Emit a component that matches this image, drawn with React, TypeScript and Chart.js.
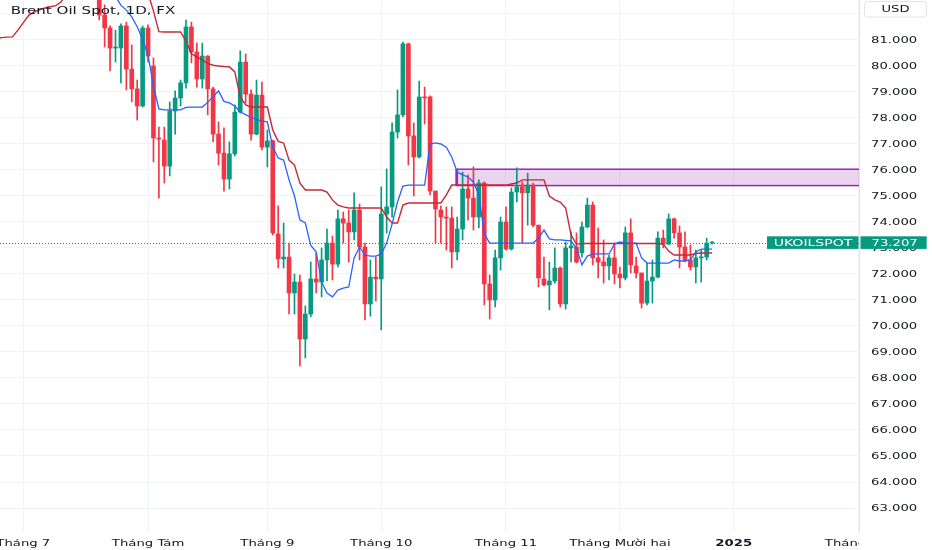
import React, { useEffect, useRef } from 'react';
import { Chart, registerables } from 'chart.js';

Chart.register(...registerables);

// ---- Daily candles, bar index 0 = first trading day of "Tháng 7" ----
const opens = [
  85.0, 86.4, 86.2, 87.2, 87.3, 86.5, 85.7, 84.6, 85.1, 85.4,
  85.0, 84.8, 83.9, 84.4, 83.4, 81.96, 81.46, 80.69, 80.69, 81.54,
  79.88, 79.12, 78.46, 81.46, 80.0, 77.23, 77.15, 76.15, 78.27, 78.77,
  79.35, 81.5, 80.54, 79.5, 80.38, 79.12, 77.38, 76.65, 75.65, 76.62,
  78.23, 80.15, 78.92, 77.38, 78.88, 76.88, 77.12, 73.54, 72.58, 72.65,
  71.27, 71.69, 69.5, 70.46, 71.81, 71.69, 72.54, 73.19, 72.38, 74.12,
  73.96, 73.62, 74.46, 73.04, 70.85, 71.88, 71.81, 74.31, 74.58, 77.46,
  78.12, 80.85, 77.31, 76.5, 78.81, 78.81, 75.19, 74.46, 74.19, 74.15,
  72.85, 73.73, 75.27, 74.92, 74.19, 75.5, 71.62, 71.0, 72.62, 74.0,
  72.96, 75.15, 75.35, 75.12, 75.42, 73.88, 71.81, 71.58, 71.73, 72.23,
  70.85, 73.0, 73.04, 72.81, 73.81, 74.65, 72.62, 72.46, 72.31, 72.62,
  72.0, 71.85, 73.58, 72.31, 72.04, 70.88, 71.73, 71.88, 73.38, 73.15,
  74.12, 73.58, 73.04, 72.54, 72.27, 72.62, 72.65, 73.19,
];
const highs = [
  86.6, 86.9, 87.3, 87.5, 87.9, 86.8, 85.9, 85.3, 85.8, 85.7,
  85.2, 85.0, 84.7, 84.6, 83.6, 82.35, 81.54, 81.38, 81.62, 81.69,
  80.81, 79.46, 81.54, 81.58, 80.31, 77.65, 77.65, 78.62, 79.04, 79.46,
  81.77, 81.69, 80.88, 80.88, 80.4, 79.19, 77.85, 77.62, 77.08, 78.5,
  80.58, 80.46, 79.08, 79.46, 79.38, 77.54, 77.15, 74.62, 73.96, 73.19,
  72.0, 71.96, 70.77, 72.46, 72.81, 73.0, 73.73, 73.46, 74.46, 74.38,
  74.46, 75.12, 74.69, 73.19, 72.54, 72.65, 75.35, 76.04, 77.81, 79.08,
  80.92, 80.88, 77.81, 79.42, 79.19, 78.85, 75.19, 74.62, 74.58, 74.58,
  74.19, 75.92, 75.81, 76.12, 75.62, 75.54, 71.96, 72.92, 74.19, 74.58,
  75.31, 76.08, 75.54, 75.88, 75.5, 73.88, 72.65, 72.46, 73.0, 72.27,
  73.23, 73.62, 73.58, 74.0, 74.92, 74.77, 73.77, 73.31, 72.73, 73.19,
  72.27, 73.81, 74.12, 72.65, 72.04, 72.42, 72.54, 73.62, 73.69, 74.31,
  74.15, 73.85, 73.62, 73.12, 72.92, 72.92, 73.38, 73.25,
];
const lows = [
  84.6, 85.8, 85.9, 86.8, 86.2, 85.4, 84.4, 84.3, 84.9, 84.8,
  84.5, 83.7, 83.7, 83.1, 81.77, 80.73, 79.81, 80.15, 79.35, 79.08,
  78.62, 77.92, 78.42, 80.15, 76.31, 74.92, 75.5, 75.77, 77.38, 78.46,
  79.15, 80.12, 79.19, 79.15, 78.12, 77.08, 76.19, 75.19, 75.27, 76.54,
  78.19, 78.58, 77.15, 77.35, 76.77, 76.12, 73.5, 72.23, 72.23, 70.46,
  70.46, 68.46, 68.77, 70.35, 71.27, 71.12, 71.73, 71.77, 72.27, 73.19,
  72.46, 73.31, 72.54, 70.23, 70.38, 70.96, 69.85, 73.58, 74.19, 77.23,
  78.04, 76.19, 75.0, 76.46, 77.77, 75.04, 73.19, 73.19, 72.92, 72.23,
  72.54, 73.31, 74.08, 73.69, 73.77, 70.81, 70.27, 70.73, 72.15, 72.92,
  72.92, 74.77, 73.19, 73.88, 73.81, 71.5, 71.54, 70.62, 71.65, 70.73,
  70.65, 72.46, 72.42, 72.65, 73.77, 72.35, 71.85, 71.65, 71.77, 71.62,
  71.46, 71.77, 72.04, 71.85, 70.69, 70.81, 70.88, 71.85, 73.0, 73.12,
  73.38, 72.23, 72.46, 72.15, 71.65, 71.69, 72.54, 73.15,
];
const closes = [
  86.4, 86.2, 87.2, 87.3, 86.5, 85.7, 84.6, 85.1, 85.4, 85.0,
  84.8, 83.9, 84.4, 83.4, 81.96, 81.46, 80.69, 80.73, 81.54, 79.88,
  79.12, 78.46, 81.46, 80.38, 77.23, 77.19, 76.15, 78.27, 78.77, 79.35,
  81.5, 80.54, 79.5, 80.38, 79.12, 77.38, 76.65, 75.65, 76.62, 78.23,
  80.15, 78.92, 77.38, 78.88, 76.88, 77.12, 73.58, 72.58, 72.65, 71.27,
  71.69, 69.5, 70.46, 71.81, 71.69, 72.54, 73.19, 72.38, 74.12, 73.96,
  73.62, 74.46, 73.04, 70.85, 71.88, 71.81, 74.31, 74.58, 77.46, 78.12,
  80.85, 77.31, 76.5, 78.81, 78.77, 75.19, 74.5, 74.19, 74.15, 72.85,
  73.73, 75.27, 74.92, 74.19, 75.5, 71.62, 71.0, 72.62, 74.0, 72.96,
  75.15, 75.35, 75.12, 75.42, 73.88, 71.85, 71.58, 71.73, 72.23, 70.85,
  73.0, 73.08, 72.46, 73.81, 74.65, 72.62, 72.46, 72.31, 72.62, 72.0,
  71.85, 73.58, 72.35, 72.04, 70.88, 71.73, 71.88, 73.38, 73.15, 74.12,
  73.58, 73.04, 72.54, 72.27, 72.62, 72.65, 73.19, 73.21,
];

// ---- Indicator lines (values from bar index LINE_START onward) ----
const LINE_START = -5;
const conversionLine = [
  85.6, 85.6, 85.8, 86.0, 86.0, 86.2, 86.4, 86.4, 86.4,
  86.6, 86.6, 86.3, 86.0, 86.0, 85.9, 85.6,
  85.4, 85.1, 84.9, 84.5, 84.0, 83.0,
  82.69, 82.33, 82.15, 81.89, 81.51, 81.03, 80.42, 79.23, 78.35, 78.31,
  78.31, 78.31, 78.31, 78.41, 78.42, 78.42, 78.42, 78.6, 78.82, 79.04,
  78.64, 78.58, 78.46, 78.23, 78.13, 78.02, 77.95, 77.88, 77.85, 76.88,
  76.46, 76.38, 75.62, 75.0, 74.08, 73.96, 73.1, 72.85, 71.69, 71.27,
  71.12, 71.38, 71.46, 71.5, 72.62, 73.04, 72.73, 72.69, 72.69, 72.77,
  73.19, 73.92, 74.77, 75.38, 75.42, 75.42, 75.42, 75.42, 77.0, 77.04,
  77.0, 76.88, 76.5, 75.92, 75.81, 75.73, 75.54, 75.04, 73.54, 73.19,
  73.19, 73.19, 73.19, 73.19, 73.19, 73.19, 73.19, 73.19, 73.38, 73.69,
  73.35, 73.31, 73.31, 73.29, 73.27, 73.0, 72.35, 72.69, 72.77, 72.77,
  72.77, 72.77, 73.15, 73.23, 73.19, 73.19, 73.19, 72.62, 72.42, 72.42,
  72.42, 72.42, 72.42, 72.54, 72.5, 72.5, 72.54, 72.85, 72.96, 72.96,
  72.96,
];
const baseLine = [
  81.08, 81.09, 81.11, 81.12, 81.38, 81.67, 81.95, 82.08, 82.16, 82.23, 82.28, 82.32, 82.47,
  82.85, 83.2, 83.5, 83.5, 83.5, 83.5, 83.5, 83.5, 83.5, 83.5, 83.5, 83.5, 83.5, 83.5,
  83.3, 82.79, 82.12, 81.32, 81.31, 81.31, 81.31, 81.31, 80.96, 80.47,
  80.35, 80.23, 80.1, 80.03, 80.0, 79.98, 79.97, 79.77, 78.81, 78.5,
  78.42, 78.42, 78.42, 78.42, 77.54, 77.1, 77.04, 76.38, 76.19, 75.5,
  75.23, 75.23, 75.23, 75.23, 75.15, 74.85, 74.65, 74.58, 74.54, 74.54,
  74.54, 74.54, 74.54, 74.54, 74.54, 74.19, 73.96, 73.96, 74.65, 74.73,
  74.73, 74.73, 74.73, 74.73, 74.73, 74.73, 75.04, 75.42, 75.42, 75.42,
  75.42, 75.42, 75.42, 75.42, 75.42, 75.42, 75.42, 75.42, 75.46, 75.5,
  75.62, 75.62, 75.62, 75.62, 75.62, 75.0, 74.85, 74.77, 74.54, 73.5,
  73.15, 73.17, 73.17, 73.17, 73.17, 73.17, 73.17, 73.17, 73.17, 73.17,
  73.17, 73.17, 73.17, 73.17, 73.17, 73.17, 73.15, 72.88, 72.73, 72.73,
  72.73, 72.73, 72.79, 72.81, 72.81, 72.81,
];

// ---- Axes ----
const monthTickIndex = [0, 23, 45, 66, 89, 110, 131, 154];
const monthLabels = ['Tháng 7', 'Tháng Tám', 'Tháng 9', 'Tháng 10', 'Tháng 11', 'Tháng Mười hai', '2025', 'Tháng Hai'];
const boldMonthLabel = '2025';
const priceTicks = [63, 64, 65, 66, 67, 68, 69, 70, 71, 72, 73, 74, 75, 76, 77, 78, 79, 80, 81, 82];
const priceLabelMax = 81;
const X_MIN = -4.296;
const X_MAX = 154.09;
const Y_MIN = 62.077;
const Y_MAX = 82.538;

// ---- Annotations ----
const title = 'Brent Oil Spot, 1D, FX';
const currency = 'USD';
const symbol = 'UKOILSPOT';
const lastPrice = 73.207;
const zoneTop = 76.03;
const zoneBottom = 75.4;
const zoneStartIndex = 79.87;
const zoneEndIndex = 170;

const UP = '#089981';
const DOWN = '#F23645';
const TEXT = '#131722';
const GRID = '#f0f3fa';
const FONT = '"DejaVu Sans", "Noto Sans", sans-serif';

function stretchText(
  ctx: CanvasRenderingContext2D, text: string, x: number, y: number,
  font: string, color: string, align: CanvasTextAlign, sx: number,
) {
  ctx.save();
  ctx.font = font;
  ctx.fillStyle = color;
  ctx.textAlign = align;
  ctx.textBaseline = 'alphabetic';
  ctx.translate(x, y);
  ctx.scale(sx, 1);
  ctx.fillText(text, 0, 0);
  ctx.restore();
}

const overlayPlugin = {
  id: 'tvOverlay',
  beforeDatasetsDraw(chart: any) {
    const { ctx, chartArea: a, scales } = chart;
    const xs = scales.x;
    const ys = scales.y;
    ctx.save();
    ctx.beginPath();
    ctx.rect(a.left, a.top, a.right - a.left, a.bottom - a.top);
    ctx.clip();
    const x0 = xs.getPixelForValue(zoneStartIndex);
    const x1 = xs.getPixelForValue(zoneEndIndex);
    const y0 = ys.getPixelForValue(zoneTop);
    const y1 = ys.getPixelForValue(zoneBottom);
    ctx.fillStyle = 'rgba(156, 39, 176, 0.2)';
    ctx.fillRect(x0, y0, x1 - x0, y1 - y0);
    ctx.strokeStyle = '#9C27B0';
    ctx.lineWidth = 1.5;
    ctx.strokeRect(x0, y0, x1 - x0, y1 - y0);
    ctx.fillStyle = '#9C27B0';
    ctx.fillRect(x0 - 1, y0, 2.5, y1 - y0);

    const py = ys.getPixelForValue(lastPrice);
    ctx.strokeStyle = '#089981';
    ctx.lineWidth = 1;
    ctx.setLineDash([1, 2]);
    ctx.beginPath();
    ctx.moveTo(a.left, Math.round(py) + 0.5);
    ctx.lineTo(a.right, Math.round(py) + 0.5);
    ctx.stroke();
    ctx.restore();
  },
  afterDraw(chart: any) {
    const { ctx, chartArea: a, scales } = chart;
    const xs = scales.x;
    const ys = scales.y;

    // price axis labels
    priceTicks.forEach((v) => {
      if (v > priceLabelMax) return;
      const py = ys.getPixelForValue(v);
      stretchText(ctx, v.toFixed(3), a.right + 12, py + 2.9, `8px ${FONT}`, TEXT, 'left', 1.65);
    });

    // time axis labels (clipped at the price axis)
    ctx.save();
    ctx.beginPath();
    ctx.rect(0, a.bottom, a.right, chart.height - a.bottom);
    ctx.clip();
    monthTickIndex.forEach((v, k) => {
      const px = xs.getPixelForValue(v);
      const lbl = monthLabels[k];
      const f = lbl === boldMonthLabel ? `bold 9px ${FONT}` : `9px ${FONT}`;
      stretchText(ctx, lbl, px, a.bottom + 14, f, TEXT, 'center', 1.47);
    });
    ctx.restore();

    // title
    stretchText(ctx, title, 10.7, 14, `10px ${FONT}`, TEXT, 'left', 1.51);

    // currency box
    ctx.save();
    ctx.fillStyle = '#ffffff';
    ctx.strokeStyle = '#e0e3eb';
    ctx.lineWidth = 1;
    ctx.beginPath();
    (ctx as any).roundRect(864.5, 1.5, 62, 15.5, 3);
    ctx.fill();
    ctx.stroke();
    ctx.restore();
    stretchText(ctx, currency, 895.5, 12.3, `8px ${FONT}`, TEXT, 'center', 1.64);

    // last price labels
    const py = ys.getPixelForValue(lastPrice);
    ctx.save();
    ctx.fillStyle = UP;
    ctx.fillRect(767, py - 6.3, a.right - 767 - 0.5, 12.6);
    ctx.fillRect(a.right + 1.5, py - 6.3, 926.7 - a.right - 1.5, 12.6);
    ctx.restore();
    stretchText(ctx, symbol, (767 + a.right) / 2, py + 3.1, `8.5px ${FONT}`, '#ffffff', 'center', 1.65);
    stretchText(ctx, lastPrice.toFixed(3), a.right + 12.5, py + 2.9, `8px ${FONT}`, '#ffffff', 'left', 1.65);
  },
};

export default function App() {
  const canvasRef = useRef<HTMLCanvasElement | null>(null);

  useEffect(() => {
    document.body.style.margin = '0';
    const canvas = canvasRef.current;
    if (!canvas) return;

    const colors = opens.map((o, i) => (closes[i] >= o ? UP : DOWN));
    const bodyData = opens.map((o, i) => ({ x: i, y: [o, closes[i]] }));
    const wickData = lows.map((l, i) => ({ x: i, y: [l, highs[i]] }));
    const convData = conversionLine.map((v, k) => ({ x: LINE_START + k, y: v }));
    const baseData = baseLine.map((v, k) => ({ x: LINE_START + k, y: v }));

    const chart = new Chart(canvas, {
      type: 'bar',
      data: {
        datasets: [
          {
            type: 'line',
            data: convData as any,
            borderColor: '#2962FF',
            borderWidth: 1.3,
            pointRadius: 0,
            tension: 0,
            order: 0,
          } as any,
          {
            type: 'line',
            data: baseData as any,
            borderColor: '#C62834',
            borderWidth: 1.4,
            pointRadius: 0,
            tension: 0,
            order: 0,
          } as any,
          {
            type: 'bar',
            data: bodyData as any,
            backgroundColor: colors,
            barThickness: 4,
            minBarLength: 1,
            grouped: false,
            borderWidth: 0,
            order: 1,
          } as any,
          {
            type: 'bar',
            data: wickData as any,
            backgroundColor: colors,
            barThickness: 1,
            grouped: false,
            borderWidth: 0,
            order: 2,
          } as any,
        ],
      },
      options: {
        animation: false,
        responsive: false,
        events: [],
        layout: { padding: 0 },
        plugins: {
          legend: { display: false },
          tooltip: { enabled: false },
          title: { display: false },
        },
        scales: {
          x: {
            type: 'linear',
            min: X_MIN,
            max: X_MAX,
            bounds: 'data',
            offset: false,
            grid: { color: GRID, offset: false, drawTicks: false },
            border: { display: false },
            ticks: { display: false },
            afterBuildTicks: (s: any) => {
              s.ticks = monthTickIndex.map((v) => ({ value: v }));
            },
            afterFit: (s: any) => {
              s.height = 18;
              s.paddingLeft = 0;
              s.paddingRight = 0;
            },
          } as any,
          y: {
            type: 'linear',
            position: 'right',
            min: Y_MIN,
            max: Y_MAX,
            bounds: 'data',
            grid: { color: GRID, drawTicks: false },
            border: { display: true, color: '#e0e3eb' },
            ticks: { display: false },
            afterBuildTicks: (s: any) => {
              s.ticks = priceTicks.map((v) => ({ value: v }));
            },
            afterFit: (s: any) => {
              s.width = 73;
              s.paddingTop = 0;
              s.paddingBottom = 0;
            },
          } as any,
        },
      } as any,
      plugins: [overlayPlugin],
    });

    return () => chart.destroy();
  }, []);

  return (
    <div style={{ width: 932, height: 550 }}>
      <canvas ref={canvasRef} width={932} height={550} />
    </div>
  );
}
